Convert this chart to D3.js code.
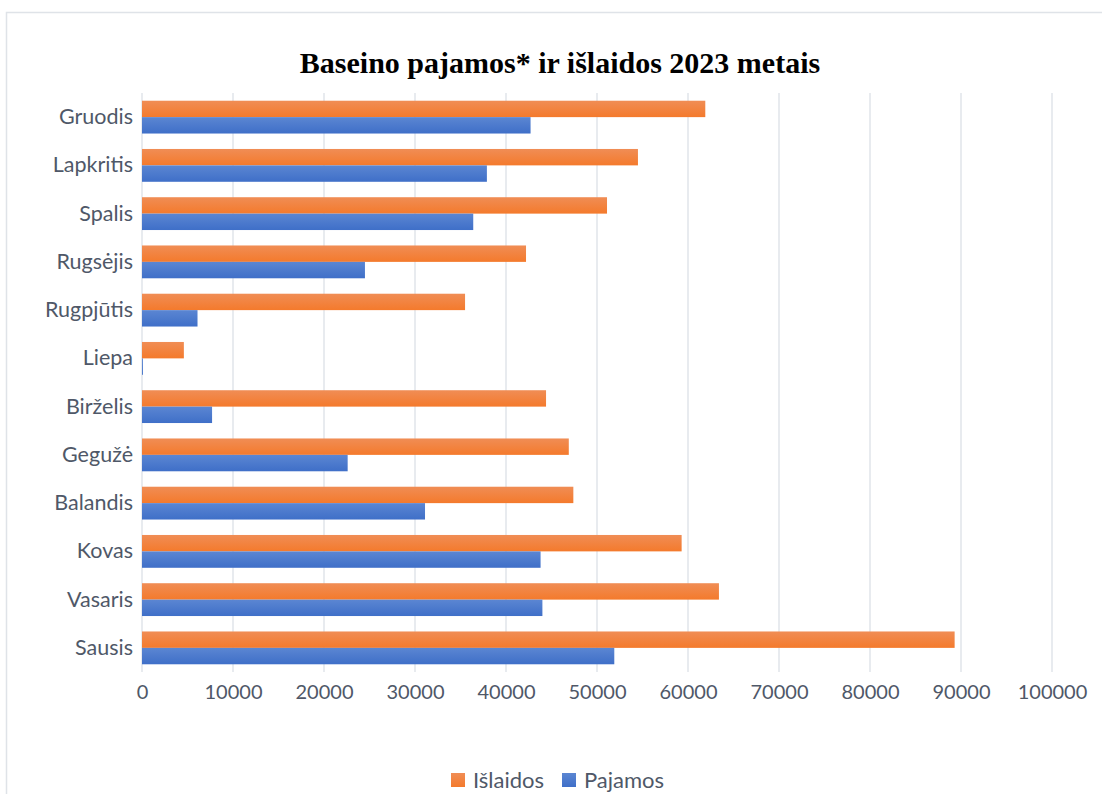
<!DOCTYPE html>
<html>
<head>
<meta charset="utf-8">
<script src="https://cdn.jsdelivr.net/npm/d3@7"></script>
<style>
  html, body { margin: 0; padding: 0; background: #fff; }
  svg { display: block; }
</style>
</head>
<body>
<svg id="chart" width="1102" height="794"></svg>
<script>
// months from bottom (Sausis) to top (Gruodis)
const months = ["Sausis", "Vasaris", "Kovas", "Balandis", "Gegužė", "Birželis",
  "Liepa", "Rugpjūtis", "Rugsėjis", "Spalis", "Lapkritis", "Gruodis"];
const islaidos = [89300, 63400, 59300, 47400, 46900, 44400, 4600, 35500, 42200, 51100, 54500, 61900];
const pajamos = [51900, 44000, 43800, 31100, 22600, 7700, 100, 6100, 24500, 36400, 37900, 42700];
const seriesNames = ["Išlaidos", "Pajamos"];
const xTicks = [0, 10000, 20000, 30000, 40000, 50000, 60000, 70000, 80000, 90000, 100000];

const labelFont = "Lato, 'Open Sans', sans-serif";
const textColor = "#4f5868";

const svg = d3.select("#chart");

const plot = {left: 142, right: 1052, top: 93, bottom: 672};

const data = months.map((m, i) => ({month: m, values: [islaidos[i], pajamos[i]]}));

const x = d3.scaleLinear()
    .domain([0, 100000])
    .range([plot.left, plot.right]);

const y = d3.scaleBand()
    .domain(months.slice().reverse())
    .range([plot.top, plot.bottom])
    .paddingInner(0.32)
    .paddingOuter(0.16);

const ySub = d3.scaleBand()
    .domain(seriesNames)
    .range([0, y.bandwidth()]);

const color = d3.scaleOrdinal()
    .domain(seriesNames)
    .range([["#f08d55", "#f47a2c"], ["#5b86d2", "#3f6fc8"]]);

// gradients
const defs = svg.append("defs");
seriesNames.forEach((s, i) => {
  const grad = defs.append("linearGradient")
      .attr("id", `grad${i}`)
      .attr("x1", 0).attr("y1", 0).attr("x2", 0).attr("y2", 1);
  grad.append("stop").attr("offset", "0%").attr("stop-color", color(s)[0]);
  grad.append("stop").attr("offset", "100%").attr("stop-color", color(s)[1]);
});

// chart frame (cropped on the right and bottom)
svg.append("path")
    .attr("d", "M6.5,900 V12.5 H1200")
    .attr("fill", "none")
    .attr("stroke", "#dfe3e8")
    .attr("stroke-width", 1.5);

// title
svg.append("text")
    .attr("x", 560)
    .attr("y", 73)
    .attr("text-anchor", "middle")
    .attr("font-family", "'Liberation Serif', 'Times New Roman', serif")
    .attr("font-weight", "bold")
    .attr("font-size", 30)
    .attr("fill", "#000")
    .text("Baseino pajamos* ir išlaidos 2023 metais");

// gridlines
svg.append("g")
    .attr("class", "grid")
  .selectAll("line")
  .data(xTicks)
  .join("line")
    .attr("x1", d => x(d))
    .attr("x2", d => x(d))
    .attr("y1", plot.top)
    .attr("y2", plot.bottom)
    .attr("stroke", "#e1e5ea")
    .attr("stroke-width", 1.5);

// bars
svg.append("g")
  .selectAll("g")
  .data(data)
  .join("g")
    .attr("transform", d => `translate(0,${y(d.month)})`)
  .selectAll("rect")
  .data(d => d.values.map((v, i) => ({series: seriesNames[i], value: v, i})))
  .join("rect")
    .attr("x", x(0))
    .attr("y", d => ySub(d.series))
    .attr("width", d => x(d.value) - x(0))
    .attr("height", ySub.bandwidth())
    .attr("fill", d => `url(#grad${d.i})`);

// x axis labels
svg.append("g")
    .attr("transform", `translate(0,${plot.bottom})`)
    .call(d3.axisBottom(x).tickValues(xTicks).tickFormat(d3.format("d")).tickSize(0).tickPadding(13))
    .call(g => g.select(".domain").remove())
    .call(g => g.selectAll("text")
        .attr("font-family", labelFont)
        .attr("font-size", 20)
        .attr("fill", textColor));

// y axis labels
svg.append("g")
    .attr("transform", `translate(${plot.left},0)`)
    .call(d3.axisLeft(y).tickSize(0).tickPadding(9))
    .call(g => g.select(".domain").remove())
    .call(g => g.selectAll("text")
        .attr("font-family", labelFont)
        .attr("font-size", 21.5)
        .attr("fill", textColor));

// legend
const legend = svg.append("g")
    .attr("transform", "translate(451,780)");

const legendX = [0, 111];
const items = legend.selectAll("g")
  .data(seriesNames)
  .join("g")
    .attr("transform", (d, i) => `translate(${legendX[i]},0)`);

items.append("rect")
    .attr("x", 0)
    .attr("y", -7)
    .attr("width", 14)
    .attr("height", 14)
    .attr("fill", (d, i) => `url(#grad${i})`);

items.append("text")
    .attr("x", 22)
    .attr("y", 0)
    .attr("dy", "0.36em")
    .attr("font-family", labelFont)
    .attr("font-size", 22)
    .attr("fill", textColor)
    .text(d => d);
</script>
</body>
</html>
